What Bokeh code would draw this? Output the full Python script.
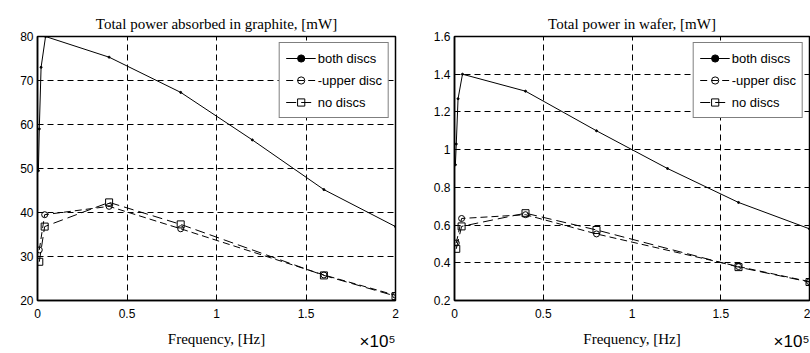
from bokeh.plotting import figure
from bokeh.layouts import row
from bokeh.models import Range1d, FixedTicker, CustomJSTickFormatter, Title
from bokeh.embed import file_html
from bokeh.resources import INLINE

# ---- data (frequency in units of 1e5 Hz) ----
freq_both = [0.005, 0.01, 0.02, 0.045, 0.4, 0.8, 1.2, 1.6, 2.0]
graphite_both = [49.5, 59.0, 73.0, 80.0, 75.3, 67.3, 56.5, 45.2, 36.8]
wafer_both = [0.92, 1.03, 1.27, 1.40, 1.31, 1.10, 0.90, 0.72, 0.58]

freq_disc = [0.01, 0.04, 0.4, 0.8, 1.6, 2.0]
graphite_upper = [31.5, 39.5, 41.4, 36.3, 25.8, 21.2]
graphite_none = [28.8, 36.8, 42.3, 37.3, 25.7, 21.0]
wafer_upper = [0.505, 0.635, 0.655, 0.553, 0.380, 0.300]
wafer_none = [0.474, 0.593, 0.663, 0.574, 0.377, 0.298]

x_ticks = [0, 0.5, 1, 1.5, 2]
graphite_ticks = [20, 30, 40, 50, 60, 70, 80]
wafer_ticks = [0.2, 0.4, 0.6, 0.8, 1.0, 1.2, 1.4, 1.6]

titles = ["Total power absorbed in graphite, [mW]", "Total power in wafer, [mW]"]
x_label = "Frequency, [Hz]"
legend_labels = ["both discs", "-upper disc", "no discs"]
x_multiplier = "×10⁵"

SERIF = "Liberation Serif"
SANS = "Liberation Sans"

fmt = CustomJSTickFormatter(code="return Number(tick.toFixed(2)).toString();")


def make_plot(title, y_both, y_upper, y_none, y_range, y_ticks, border_left, border_right,
              border_top, border_bottom, mult_offset):
    p = figure(width=405, height=353, output_backend="svg", toolbar_location=None,
               x_range=Range1d(0, 2), y_range=Range1d(*y_range),
               min_border_left=border_left, min_border_right=border_right,
               min_border_top=border_top, min_border_bottom=border_bottom,
               background_fill_color="white", border_fill_color="white")
    p.title.text = title
    p.title.align = "center"
    p.title.text_font = SERIF
    p.title.text_font_size = "15px"
    p.title.text_font_style = "normal"
    p.title.text_color = "black"

    p.outline_line_color = "black"
    p.outline_line_width = 1.5
    p.outline_line_alpha = 1

    for ax in (p.xaxis[0], p.yaxis[0]):
        ax.major_tick_in = 4
        ax.major_tick_out = 0
        ax.minor_tick_in = 0
        ax.minor_tick_out = 0
        ax.axis_line_color = "black"
        ax.axis_line_width = 1.5
        ax.major_label_text_font = SANS
        ax.major_label_text_font_size = "12px"
        ax.major_label_text_color = "black"
        ax.formatter = fmt
    p.yaxis[0].major_label_standoff = 4
    p.xaxis[0].major_label_standoff = 8
    p.xaxis[0].ticker = FixedTicker(ticks=x_ticks)
    p.yaxis[0].ticker = FixedTicker(ticks=y_ticks)
    p.xaxis[0].axis_label = x_label
    p.xaxis[0].axis_label_text_font = SERIF
    p.xaxis[0].axis_label_text_font_size = "15px"
    p.xaxis[0].axis_label_text_font_style = "normal"
    p.xaxis[0].axis_label_text_color = "black"
    p.xaxis[0].axis_label_standoff = 10

    for g in (p.xgrid[0], p.ygrid[0]):
        g.grid_line_color = "black"
        g.grid_line_dash = "6 4"
        g.grid_line_width = 1
        g.grid_line_alpha = 1

    p.line(freq_both, y_both, line_color="black", line_width=1, legend_label=legend_labels[0])
    p.scatter(freq_both, y_both, marker="circle", size=2, color="black", legend_label=legend_labels[0])

    p.line(freq_disc, y_upper, line_color="black", line_width=1, line_dash="7 4",
           legend_label=legend_labels[1])
    p.scatter(freq_disc, y_upper, marker="circle", size=6, line_color="black", fill_alpha=0,
              line_width=1, legend_label=legend_labels[1])

    p.line(freq_disc, y_none, line_color="black", line_width=1, line_dash="10 5",
           legend_label=legend_labels[2])
    p.scatter(freq_disc, y_none, marker="square", size=7, line_color="black", fill_alpha=0,
              line_width=1, legend_label=legend_labels[2])

    lg = p.legend[0]
    lg.location = "top_right"
    lg.border_line_color = "black"
    lg.border_line_width = 1.5
    lg.background_fill_alpha = 1
    lg.label_text_font = SANS
    lg.label_text_font_size = "13px"
    lg.label_text_color = "black"
    lg.label_height = 18
    lg.glyph_height = 18
    lg.glyph_width = 30
    lg.label_standoff = 2
    lg.spacing = 4
    lg.padding = 6
    lg.margin = 6

    # "x10^5" multiplier placed in the bottom side panel (pulled up beside the axis label)
    p.add_layout(Title(text=x_multiplier, align="right", vertical_align="top", standoff=-36,
                       offset=mult_offset, text_font=SANS, text_font_size="17px",
                       text_font_style="normal", text_color="black"), "below")
    return p


p1 = make_plot(titles[0], graphite_both, graphite_upper, graphite_none, (20, 80), graphite_ticks,
               37, 10, 34, 53, 0)
p2 = make_plot(titles[1], wafer_both, wafer_upper, wafer_none, (0.2, 1.6), wafer_ticks,
               49, 1, 36, 51, 0)

layout = row(p1, p2)
open("out.html", "w").write(file_html(layout, INLINE))
